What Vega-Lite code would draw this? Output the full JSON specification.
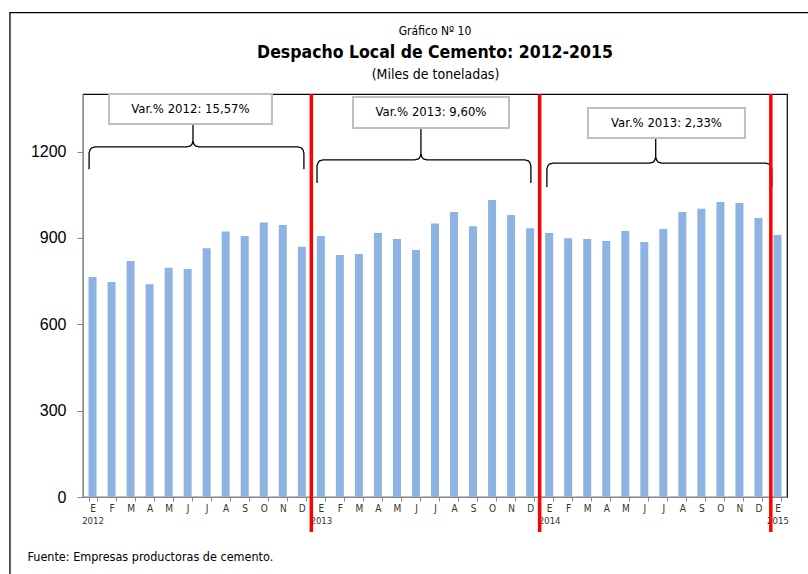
{
  "$schema": "https://vega.github.io/schema/vega-lite/v6.json",
  "width": 704,
  "height": 403,
  "autosize": {"type": "none"},
  "padding": {"left": 83, "top": 94, "right": 21, "bottom": 77},
  "background": "white",
  "config": {"view": {"stroke": "#000000", "strokeWidth": 1.2}},
  "title": {
    "text": "Gráfico Nº 10",
    "subtitle": "Despacho Local de Cemento: 2012-2015",
    "frame": "group",
    "anchor": "middle",
    "font": "DejaVu Sans Condensed, Liberation Sans, sans-serif",
    "fontSize": 12,
    "fontWeight": "normal",
    "color": "#000000",
    "subtitleFont": "DejaVu Sans Condensed, Liberation Sans, sans-serif",
    "subtitleFontSize": 17.5,
    "subtitleFontWeight": "bold",
    "subtitleColor": "#000000",
    "subtitlePadding": 6,
    "offset": -51
  },
  "datasets": {
    "despacho": [
      {"t": 0, "v": 764}, {"t": 1, "v": 747}, {"t": 2, "v": 820}, {"t": 3, "v": 739},
      {"t": 4, "v": 796}, {"t": 5, "v": 792}, {"t": 6, "v": 864}, {"t": 7, "v": 922},
      {"t": 8, "v": 907}, {"t": 9, "v": 954}, {"t": 10, "v": 945}, {"t": 11, "v": 869},
      {"t": 12, "v": 907}, {"t": 13, "v": 841}, {"t": 14, "v": 844}, {"t": 15, "v": 917},
      {"t": 16, "v": 896}, {"t": 17, "v": 858}, {"t": 18, "v": 950}, {"t": 19, "v": 990},
      {"t": 20, "v": 941}, {"t": 21, "v": 1032}, {"t": 22, "v": 980}, {"t": 23, "v": 934},
      {"t": 24, "v": 917}, {"t": 25, "v": 899}, {"t": 26, "v": 896}, {"t": 27, "v": 889},
      {"t": 28, "v": 924}, {"t": 29, "v": 886}, {"t": 30, "v": 931}, {"t": 31, "v": 990},
      {"t": 32, "v": 1001}, {"t": 33, "v": 1025}, {"t": 34, "v": 1021}, {"t": 35, "v": 969},
      {"t": 36, "v": 910}
    ],
    "cajas": [
      {"label": "Var.% 2012: 15,57%", "x0": 0.87, "x1": 9.43, "y0": 1296, "y1": 1400, "xc": 5.15, "yc": 1348},
      {"label": "Var.% 2013: 9,60%", "x0": 13.69, "x1": 21.89, "y0": 1282, "y1": 1390, "xc": 17.79, "yc": 1336},
      {"label": "Var.% 2013: 2,33%", "x0": 26.04, "x1": 34.29, "y0": 1247, "y1": 1351, "xc": 30.17, "yc": 1299}
    ],
    "llaves": [
      {"g": 2012, "o": 0, "x": -0.18, "y": 1139}, {"g": 2012, "o": 1, "x": -0.18, "y": 1195},
      {"g": 2012, "o": 2, "x": -0.13, "y": 1206}, {"g": 2012, "o": 3, "x": -0.05, "y": 1212.5},
      {"g": 2012, "o": 4, "x": 0.14, "y": 1216}, {"g": 2012, "o": 5, "x": 4.96, "y": 1216},
      {"g": 2012, "o": 6, "x": 5.15, "y": 1219.5}, {"g": 2012, "o": 7, "x": 5.23, "y": 1226},
      {"g": 2012, "o": 8, "x": 5.28, "y": 1237}, {"g": 2012, "o": 9, "x": 5.28, "y": 1296},
      {"g": 2012, "o": 10, "x": 5.28, "y": 1237}, {"g": 2012, "o": 11, "x": 5.33, "y": 1226},
      {"g": 2012, "o": 12, "x": 5.41, "y": 1219.5}, {"g": 2012, "o": 13, "x": 5.6, "y": 1216},
      {"g": 2012, "o": 14, "x": 10.79, "y": 1216}, {"g": 2012, "o": 15, "x": 10.98, "y": 1212.5},
      {"g": 2012, "o": 16, "x": 11.06, "y": 1206}, {"g": 2012, "o": 17, "x": 11.11, "y": 1195},
      {"g": 2012, "o": 18, "x": 11.11, "y": 1139},
      {"g": 2013, "o": 0, "x": 11.8, "y": 1091}, {"g": 2013, "o": 1, "x": 11.8, "y": 1150},
      {"g": 2013, "o": 2, "x": 11.85, "y": 1161}, {"g": 2013, "o": 3, "x": 11.93, "y": 1167.5},
      {"g": 2013, "o": 4, "x": 12.12, "y": 1171}, {"g": 2013, "o": 5, "x": 16.94, "y": 1171},
      {"g": 2013, "o": 6, "x": 17.13, "y": 1174.5}, {"g": 2013, "o": 7, "x": 17.21, "y": 1181},
      {"g": 2013, "o": 8, "x": 17.26, "y": 1192}, {"g": 2013, "o": 9, "x": 17.26, "y": 1282},
      {"g": 2013, "o": 10, "x": 17.26, "y": 1192}, {"g": 2013, "o": 11, "x": 17.31, "y": 1181},
      {"g": 2013, "o": 12, "x": 17.39, "y": 1174.5}, {"g": 2013, "o": 13, "x": 17.58, "y": 1171},
      {"g": 2013, "o": 14, "x": 22.72, "y": 1171}, {"g": 2013, "o": 15, "x": 22.91, "y": 1167.5},
      {"g": 2013, "o": 16, "x": 22.99, "y": 1161}, {"g": 2013, "o": 17, "x": 23.04, "y": 1150},
      {"g": 2013, "o": 18, "x": 23.04, "y": 1091},
      {"g": 2014, "o": 0, "x": 23.88, "y": 1077}, {"g": 2014, "o": 1, "x": 23.88, "y": 1139},
      {"g": 2014, "o": 2, "x": 23.93, "y": 1150}, {"g": 2014, "o": 3, "x": 24.01, "y": 1156.5},
      {"g": 2014, "o": 4, "x": 24.2, "y": 1160}, {"g": 2014, "o": 5, "x": 29.28, "y": 1160},
      {"g": 2014, "o": 6, "x": 29.47, "y": 1163.5}, {"g": 2014, "o": 7, "x": 29.55, "y": 1170},
      {"g": 2014, "o": 8, "x": 29.6, "y": 1181}, {"g": 2014, "o": 9, "x": 29.6, "y": 1247},
      {"g": 2014, "o": 10, "x": 29.6, "y": 1181}, {"g": 2014, "o": 11, "x": 29.65, "y": 1170},
      {"g": 2014, "o": 12, "x": 29.73, "y": 1163.5}, {"g": 2014, "o": 13, "x": 29.92, "y": 1160},
      {"g": 2014, "o": 14, "x": 35.38, "y": 1160}, {"g": 2014, "o": 15, "x": 35.57, "y": 1156.5},
      {"g": 2014, "o": 16, "x": 35.65, "y": 1150}, {"g": 2014, "o": 17, "x": 35.7, "y": 1139},
      {"g": 2014, "o": 18, "x": 35.7, "y": 1077}
    ],
    "cortes": [{"s": 11.5}, {"s": 23.5}, {"s": 35.65}],
    "anios": [{"t": 0, "anio": "2012"}, {"t": 12, "anio": "2013"}, {"t": 24, "anio": "2014"}, {"t": 36, "anio": "2015"}]
  },
  "resolve": {"scale": {"x": "independent"}, "axis": {"x": "independent"}},
  "layer": [
    {
      "data": {"name": "despacho"},
      "mark": {"type": "bar", "color": "#8DB3E2"},
      "encoding": {
        "x": {
          "field": "t",
          "type": "ordinal",
          "sort": null,
          "scale": {"type": "band", "paddingInner": 0.58, "paddingOuter": 0.29},
          "axis": {
            "orient": "bottom",
            "labelExpr": "substring('EFMAMJJASOND', datum.value % 12, datum.value % 12 + 1)",
            "labelAngle": 0,
            "tickBand": "extent",
            "grid": false,
            "domainColor": "#888888",
            "tickColor": "#888888",
            "tickSize": 4,
            "labelPadding": 2,
            "labelFont": "DejaVu Sans Condensed, Liberation Sans, sans-serif",
            "labelFontSize": 10,
            "labelColor": "#333333",
            "title": "Fuente: Empresas productoras de cemento.",
            "titleX": -56,
            "titleY": 59,
            "titleAlign": "left",
            "titleAnchor": "start",
            "titleBaseline": "middle",
            "titleFont": "DejaVu Sans Condensed, Liberation Sans, sans-serif",
            "titleFontSize": 12.5,
            "titleFontWeight": "normal",
            "titleColor": "#000000"
          }
        },
        "y": {
          "field": "v",
          "type": "quantitative",
          "scale": {"domain": [0, 1400], "nice": false},
          "axis": {
            "values": [0, 300, 600, 900, 1200],
            "format": "d",
            "grid": false,
            "domainColor": "#888888",
            "tickColor": "#888888",
            "tickSize": 6,
            "labelPadding": 11,
            "labelFont": "Liberation Sans",
            "labelFontSize": 16,
            "labelColor": "#000000",
            "title": "(Miles de toneladas)",
            "titleAngle": 0,
            "titleX": 352,
            "titleY": -20,
            "titleAlign": "center",
            "titleBaseline": "middle",
            "titleFont": "DejaVu Sans Condensed, Liberation Sans, sans-serif",
            "titleFontSize": 14,
            "titleFontWeight": "normal",
            "titleColor": "#000000"
          }
        }
      }
    },
    {
      "layer": [
        {
          "data": {"name": "anios"},
          "mark": {"type": "point", "opacity": 0},
          "encoding": {
            "x": {
              "field": "t",
              "type": "quantitative",
              "scale": {"domain": [-0.5, 36.5], "nice": false, "zero": false, "padding": 0},
              "axis": {
                "orient": "bottom",
                "values": [0, 12, 24, 36],
                "labelExpr": "toString(2012 + floor(datum.value / 12))",
                "ticks": false,
                "domain": false,
                "grid": false,
                "labelOverlap": false,
                "labelFlush": false,
                "labelPadding": 18,
                "labelFont": "DejaVu Sans Condensed, Liberation Sans, sans-serif",
                "labelFontSize": 9.5,
                "labelColor": "#333333",
                "title": null
              }
            },
            "y": {"datum": 0, "type": "quantitative"}
          }
        },
        {
          "data": {"values": [{}]},
          "mark": {"type": "rect", "fill": "transparent", "stroke": "#000000", "strokeWidth": 1.3},
          "encoding": {
            "x": {"datum": -4.34, "type": "quantitative"},
            "x2": {"datum": 40},
            "y": {"datum": 1683, "type": "quantitative"},
            "y2": {"datum": -400}
          }
        },
        {
          "data": {"name": "llaves"},
          "mark": {"type": "line", "color": "#000000", "strokeWidth": 1.3, "interpolate": "linear"},
          "encoding": {
            "x": {"field": "x", "type": "quantitative"},
            "y": {"field": "y", "type": "quantitative"},
            "detail": {"field": "g"},
            "order": {"field": "o"}
          }
        },
        {
          "data": {"name": "cajas"},
          "mark": {"type": "rect", "fill": "#ffffff", "stroke": "#BFBFBF", "strokeWidth": 2},
          "encoding": {
            "x": {"field": "x0", "type": "quantitative"},
            "x2": {"field": "x1"},
            "y": {"field": "y0", "type": "quantitative"},
            "y2": {"field": "y1"}
          }
        },
        {
          "data": {"name": "cajas"},
          "mark": {"type": "text", "font": "DejaVu Sans Condensed, Liberation Sans, sans-serif", "fontSize": 13, "color": "#000000", "align": "center", "baseline": "middle"},
          "encoding": {
            "x": {"field": "xc", "type": "quantitative"},
            "y": {"field": "yc", "type": "quantitative"},
            "text": {"field": "label"}
          }
        },
        {
          "data": {"name": "cortes"},
          "mark": {"type": "rule", "color": "#FF0000", "strokeWidth": 3.5},
          "encoding": {
            "x": {"field": "s", "type": "quantitative"},
            "y": {"datum": 1400, "type": "quantitative"},
            "y2": {"datum": -122}
          }
        }
      ]
    }
  ]
}
